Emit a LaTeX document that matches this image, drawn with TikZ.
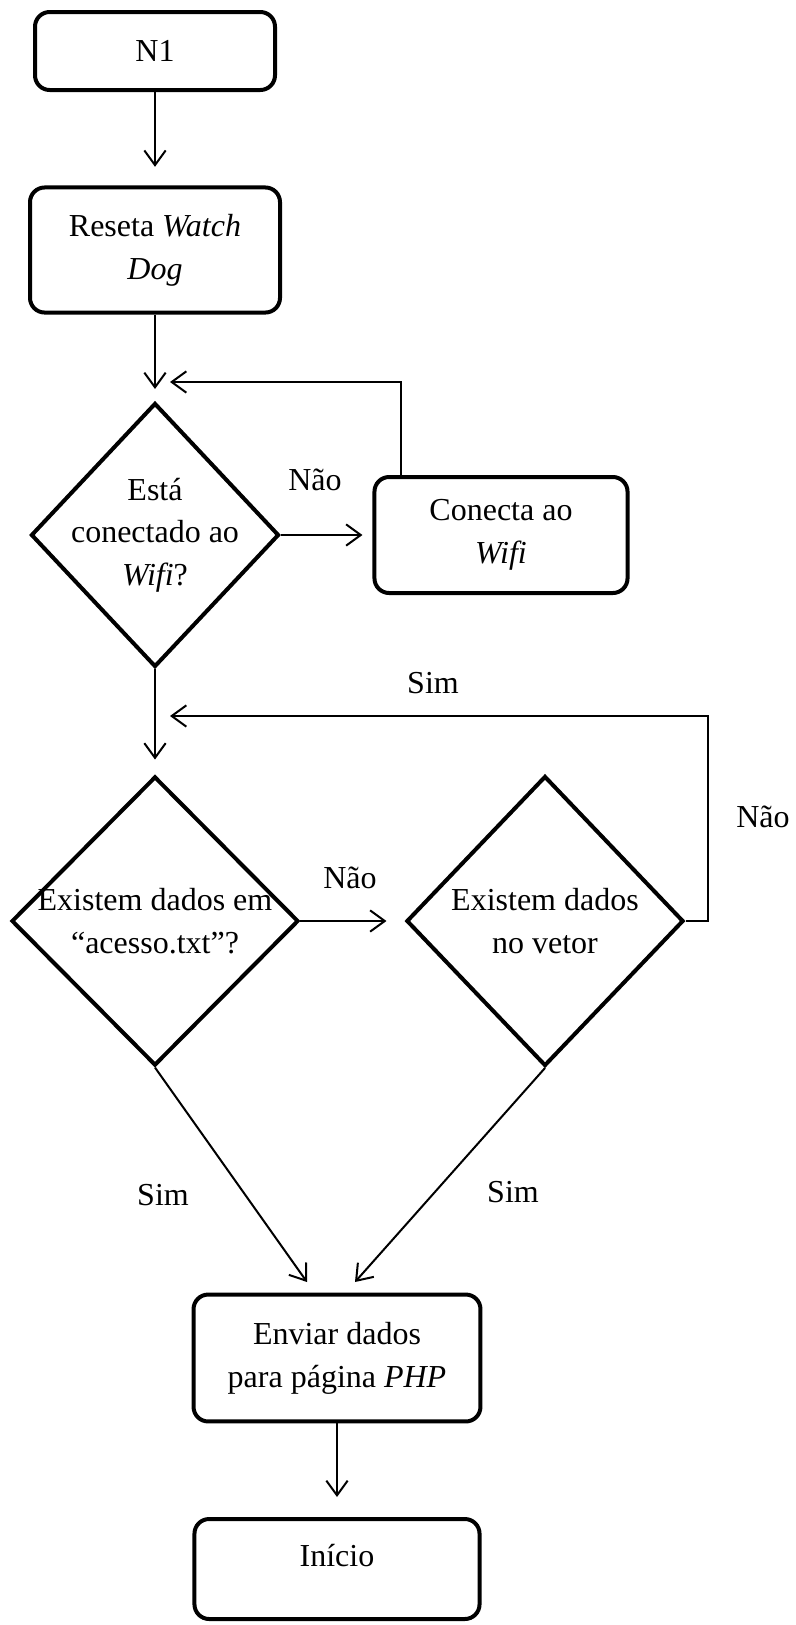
\documentclass[tikz,border=0pt]{standalone}
\usepackage{fontspec}
\setmainfont{Liberation Serif}
\usetikzlibrary{shapes.geometric,arrows.meta}

\begin{document}
\begin{tikzpicture}[x=0.375pt,y=-0.375pt,
    font=\fontsize{12}{16}\selectfont,
    box/.style={draw,rounded corners=5.5pt,line width=1.5pt,align=center},
    choice/.style={draw,diamond,line width=1.5pt,align=center,inner sep=-8pt},
    lbl/.style={inner sep=1pt},
    arr/.style={line width=0.75pt,-{Straight Barb[length=5.5pt,width=8pt]}}]

      \useasboundingbox (0,0) rectangle (796,1625);

      \begin{scope}[every node/.style={box}]
        \node[minimum width=90pt,minimum height=29.25pt] (n1)    at (155,51)   {N1};
        \node[minimum width=93.75pt,minimum height=46.9pt] (reset) at (155,250) {Reseta \textit{Watch}\\\textit{Dog}};
        \node[minimum width=94.9pt,minimum height=43.5pt] (conn)  at (501,535)  {Conecta ao\\\textit{Wifi}};
        \node[minimum width=107.6pt,minimum height=47.6pt] (send) at (337,1358) {Enviar dados\\para página \textit{PHP}};
        \node[minimum width=106.9pt,minimum height=37.5pt,text depth=10pt] (start) at (337,1569) {Início};
      \end{scope}

      \begin{scope}[every node/.style={choice}]
        \node[minimum width=93pt,minimum height=99pt] (wifi) at (155,535) {Está\\conectado ao\\\textit{Wifi}?};
        \node[minimum width=107.6pt,minimum height=108.4pt] (file) at (155,921) {Existem dados em\\“acesso.txt”?};
        \node[minimum width=103.9pt,minimum height=108.75pt] (vec) at (545,921) {Existem dados\\no vetor};
      \end{scope}

      \coordinate (k1) at (401,382);
      \coordinate (j1) at (170,382);
      \coordinate (k2) at (708,716);
      \coordinate (j2) at (170,716);
      \coordinate (t1) at (307,1282);
      \coordinate (t2) at (355,1282);

      \begin{scope}[every node/.style={lbl}]
        \node (no1)  at (315,480)  {Não};
        \node (yes1) at (433,683)  {Sim};
        \node (no2)  at (350,878)  {Não};
        \node (no3)  at (763,817)  {Não};
        \node (yes2) at (163,1195) {Sim};
        \node (yes3) at (513,1192) {Sim};
      \end{scope}

      \draw[arr,shorten >=7pt]    (n1)    -- (reset);
      \draw[arr,shorten >=4.5pt]  (reset) -- (wifi);
      \draw[arr,shorten >=3.75pt] (wifi)  -- (conn);
      \draw[arr] (conn.north -| k1) -- (k1) -- (j1);
      \draw[arr,shorten >=5.6pt]  (wifi)  -- (file);
      \draw[arr,shorten >=6.75pt] (file)  -- (vec);
      \draw[arr] (vec.east) -| (k2) -- (j2);
      \draw[arr] (file.south) -- (t1);
      \draw[arr] (vec.south)  -- (t2);
      \draw[arr,shorten >=7.5pt]  (send)  -- (start);

    \end{tikzpicture}
\end{document}
